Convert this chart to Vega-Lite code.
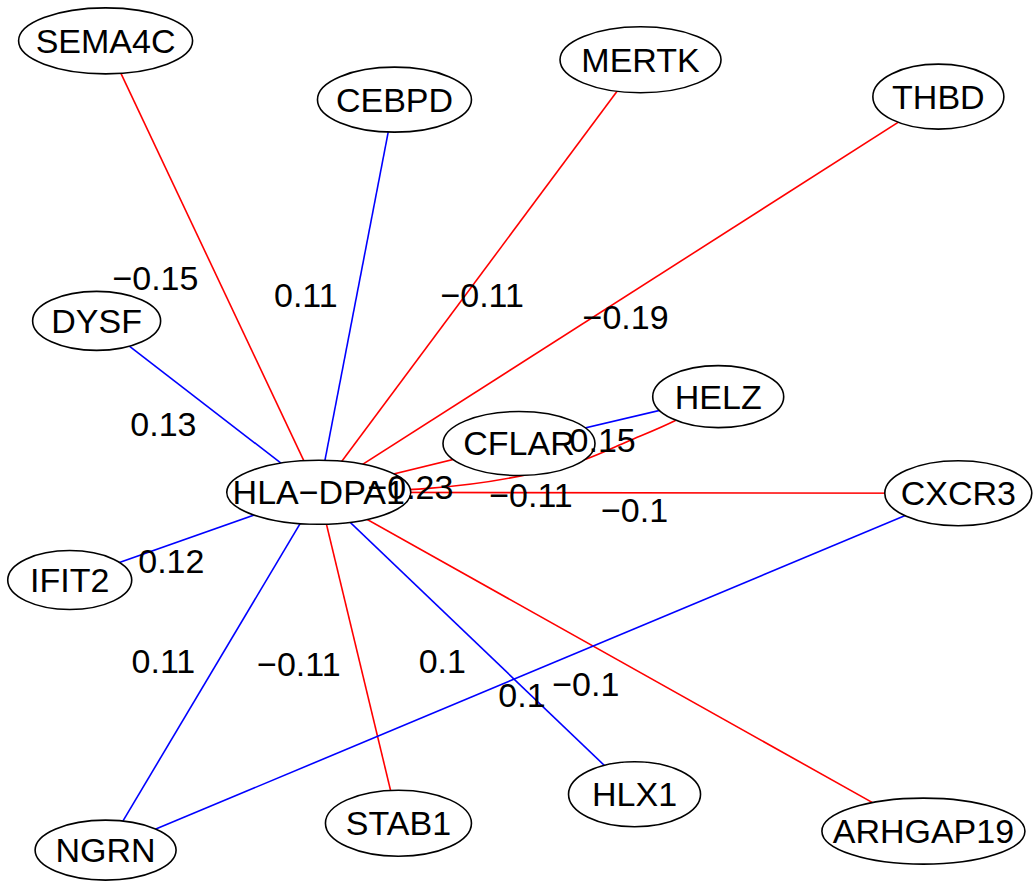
{
  "$schema": "https://vega.github.io/schema/vega-lite/v6.json",
  "width": 1035,
  "height": 884,
  "autosize": {"type": "fit", "contains": "padding"},
  "padding": 0,
  "background": "white",
  "config": {"view": {"stroke": null}},
  "datasets": {
    "nodes": [
      {"name": "SEMA4C", "x": 106, "y": 41},
      {"name": "CEBPD", "x": 396, "y": 100},
      {"name": "MERTK", "x": 643, "y": 60},
      {"name": "THBD", "x": 942, "y": 97},
      {"name": "DYSF", "x": 97, "y": 322},
      {"name": "HELZ", "x": 721, "y": 398},
      {"name": "CFLAR", "x": 521, "y": 445},
      {"name": "HLA−DPA1", "x": 320, "y": 494},
      {"name": "CXCR3", "x": 962, "y": 495},
      {"name": "IFIT2", "x": 70, "y": 582},
      {"name": "NGRN", "x": 106, "y": 853},
      {"name": "STAB1", "x": 400, "y": 826},
      {"name": "HLX1", "x": 637, "y": 797},
      {"name": "ARHGAP19", "x": 927, "y": 834}
    ],
    "edges": [
      {"source": "HLA−DPA1", "target": "SEMA4C", "weight": -0.15, "lx": 156, "ly": 279, "curved": false},
      {"source": "HLA−DPA1", "target": "CEBPD", "weight": 0.11, "lx": 307, "ly": 296, "curved": false},
      {"source": "HLA−DPA1", "target": "MERTK", "weight": -0.11, "lx": 484, "ly": 296, "curved": false},
      {"source": "HLA−DPA1", "target": "THBD", "weight": -0.19, "lx": 628, "ly": 318, "curved": false},
      {"source": "HLA−DPA1", "target": "DYSF", "weight": 0.13, "lx": 164, "ly": 425, "curved": false},
      {"source": "HLA−DPA1", "target": "CFLAR", "weight": -0.23, "lx": 412, "ly": 489, "curved": false},
      {"source": "CFLAR", "target": "HELZ", "weight": 0.15, "lx": 605, "ly": 441, "curved": false},
      {"source": "HLA−DPA1", "target": "HELZ", "weight": -0.11, "lx": 533, "ly": 497, "curved": true},
      {"source": "HLA−DPA1", "target": "CXCR3", "weight": -0.1, "lx": 637, "ly": 512, "curved": false},
      {"source": "HLA−DPA1", "target": "IFIT2", "weight": 0.12, "lx": 172, "ly": 563, "curved": false},
      {"source": "HLA−DPA1", "target": "NGRN", "weight": 0.11, "lx": 164, "ly": 663, "curved": false},
      {"source": "HLA−DPA1", "target": "STAB1", "weight": -0.11, "lx": 300, "ly": 666, "curved": false},
      {"source": "HLA−DPA1", "target": "HLX1", "weight": 0.1, "lx": 444, "ly": 663, "curved": false},
      {"source": "HLA−DPA1", "target": "ARHGAP19", "weight": -0.1, "lx": 588, "ly": 686, "curved": false},
      {"source": "CXCR3", "target": "NGRN", "weight": 0.1, "lx": 524, "ly": 697, "curved": false}
    ],
    "curve": [
      {"i": 0, "x": 320, "y": 494},
      {"i": 1, "x": 430, "y": 490},
      {"i": 2, "x": 530, "y": 476},
      {"i": 3, "x": 590, "y": 460},
      {"i": 4, "x": 630, "y": 443},
      {"i": 5, "x": 678, "y": 422},
      {"i": 6, "x": 721, "y": 398}
    ]
  },
  "layer": [
    {
      "data": {"name": "edges"},
      "transform": [
        {"filter": "!datum.curved"},
        {"lookup": "source", "from": {"data": {"name": "nodes"}, "key": "name", "fields": ["x", "y"]}, "as": ["sx", "sy"]},
        {"lookup": "target", "from": {"data": {"name": "nodes"}, "key": "name", "fields": ["x", "y"]}, "as": ["tx", "ty"]}
      ],
      "mark": {"type": "rule", "strokeWidth": 1.6},
      "encoding": {
        "x": {"field": "sx", "type": "quantitative", "axis": null, "scale": {"domain": [0, 1035], "nice": false, "zero": false}},
        "y": {"field": "sy", "type": "quantitative", "axis": null, "scale": {"domain": [0, 884], "nice": false, "zero": false, "reverse": true}},
        "x2": {"field": "tx"},
        "y2": {"field": "ty"},
        "color": {"condition": {"test": "datum.weight < 0", "value": "#ff0000"}, "value": "#0000ff"}
      }
    },
    {
      "data": {"name": "curve"},
      "mark": {"type": "line", "interpolate": "monotone", "color": "#ff0000", "strokeWidth": 1.6},
      "encoding": {
        "x": {"field": "x", "type": "quantitative"},
        "y": {"field": "y", "type": "quantitative"},
        "order": {"field": "i", "type": "quantitative"}
      }
    },
    {
      "data": {"name": "nodes"},
      "mark": {"type": "point", "filled": true, "fill": "white", "stroke": "black", "strokeWidth": 1.6, "opacity": 1, "fillOpacity": 1, "strokeOpacity": 1, "size": 4},
      "encoding": {
        "x": {"field": "x", "type": "quantitative"},
        "y": {"field": "y", "type": "quantitative"},
        "shape": {
          "field": "name", "type": "nominal", "legend": null,
          "scale": {
            "domain": ["SEMA4C", "CEBPD", "MERTK", "THBD", "DYSF", "HELZ", "CFLAR", "HLA−DPA1", "CXCR3", "IFIT2", "NGRN", "STAB1", "HLX1", "ARHGAP19"],
            "range": [
              "M87,0C87,18.23 48.05,33 0,33C-48.05,33 -87,18.23 -87,0C-87,-18.23 -48.05,-33 0,-33C48.05,-33 87,-18.23 87,0Z",
              "M77,0C77,17.95 42.53,32.5 0,32.5C-42.53,32.5 -77,17.95 -77,0C-77,-17.95 -42.53,-32.5 0,-32.5C42.53,-32.5 77,-17.95 77,0Z",
              "M80.5,0C80.5,18.23 44.46,33 0,33C-44.46,33 -80.5,18.23 -80.5,0C-80.5,-18.23 -44.46,-33 0,-33C44.46,-33 80.5,-18.23 80.5,0Z",
              "M65.5,0C65.5,17.95 36.18,32.5 0,32.5C-36.18,32.5 -65.5,17.95 -65.5,0C-65.5,-17.95 -36.18,-32.5 0,-32.5C36.18,-32.5 65.5,-17.95 65.5,0Z",
              "M64,0C64,16.29 35.35,29.5 0,29.5C-35.35,29.5 -64,16.29 -64,0C-64,-16.29 -35.35,-29.5 0,-29.5C35.35,-29.5 64,-16.29 64,0Z",
              "M65.5,0C65.5,17.12 36.18,31 0,31C-36.18,31 -65.5,17.12 -65.5,0C-65.5,-17.12 -36.18,-31 0,-31C36.18,-31 65.5,-17.12 65.5,0Z",
              "M76,0C76,17.67 41.97,32 0,32C-41.97,32 -76,17.67 -76,0C-76,-17.67 -41.97,-32 0,-32C41.97,-32 76,-17.67 76,0Z",
              "M92,0C92,17.67 50.81,32 0,32C-50.81,32 -92,17.67 -92,0C-92,-17.67 -50.81,-32 0,-32C50.81,-32 92,-17.67 92,0Z",
              "M73.5,0C73.5,17.95 40.59,32.5 0,32.5C-40.59,32.5 -73.5,17.95 -73.5,0C-73.5,-17.95 -40.59,-32.5 0,-32.5C40.59,-32.5 73.5,-17.95 73.5,0Z",
              "M62,0C62,16.29 34.24,29.5 0,29.5C-34.24,29.5 -62,16.29 -62,0C-62,-16.29 -34.24,-29.5 0,-29.5C34.24,-29.5 62,-16.29 62,0Z",
              "M70.5,0C70.5,16.57 38.94,30 0,30C-38.94,30 -70.5,16.57 -70.5,0C-70.5,-16.57 -38.94,-30 0,-30C38.94,-30 70.5,-16.57 70.5,0Z",
              "M73,0C73,18.23 40.32,33 0,33C-40.32,33 -73,18.23 -73,0C-73,-18.23 -40.32,-33 0,-33C40.32,-33 73,-18.23 73,0Z",
              "M66,0C66,17.95 36.45,32.5 0,32.5C-36.45,32.5 -66,17.95 -66,0C-66,-17.95 -36.45,-32.5 0,-32.5C36.45,-32.5 66,-17.95 66,0Z",
              "M101.5,0C101.5,18.23 56.06,33 0,33C-56.06,33 -101.5,18.23 -101.5,0C-101.5,-18.23 -56.06,-33 0,-33C56.06,-33 101.5,-18.23 101.5,0Z"
            ]
          }
        }
      }
    },
    {
      "data": {"name": "nodes"},
      "mark": {"type": "text", "font": "Liberation Sans", "fontSize": 34, "color": "black", "align": "center", "baseline": "middle", "dy": 2},
      "encoding": {
        "x": {"field": "x", "type": "quantitative"},
        "y": {"field": "y", "type": "quantitative"},
        "text": {"field": "name", "type": "nominal"}
      }
    },
    {
      "data": {"name": "edges"},
      "mark": {"type": "text", "font": "Liberation Sans", "fontSize": 34, "color": "black", "align": "center", "baseline": "middle", "dy": 2},
      "encoding": {
        "x": {"field": "lx", "type": "quantitative"},
        "y": {"field": "ly", "type": "quantitative"},
        "text": {"field": "weight", "type": "quantitative", "format": ""}
      }
    }
  ]
}
